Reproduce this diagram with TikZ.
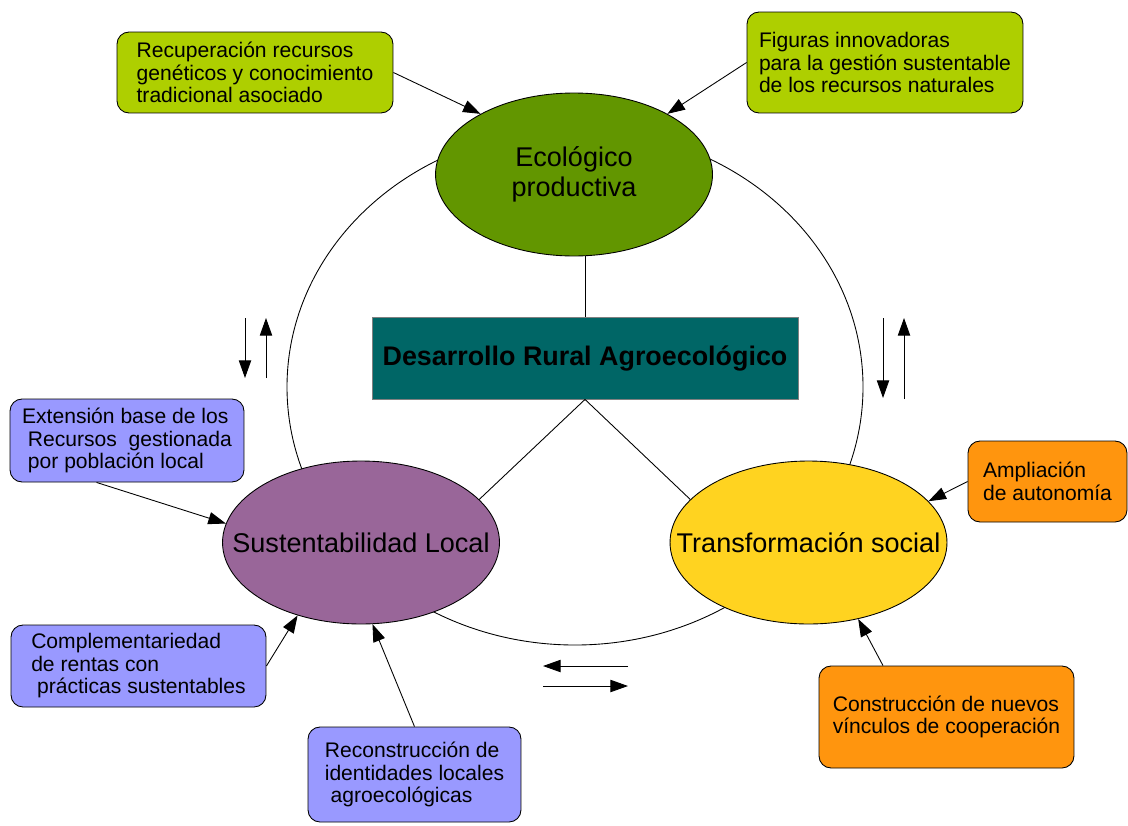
\documentclass[tikz,border=0pt]{standalone}
\usepackage{fontspec}
\setmainfont{Liberation Sans}
\usetikzlibrary{shapes.geometric,arrows.meta}
\definecolor{ecoGreen}{RGB}{98,150,0}
\definecolor{sustPurple}{RGB}{153,102,153}
\definecolor{transYellow}{RGB}{255,211,32}
\definecolor{draTeal}{RGB}{0,102,102}
\definecolor{boxGreen}{RGB}{174,207,0}
\definecolor{boxBlue}{RGB}{153,153,255}
\definecolor{boxOrange}{RGB}{255,149,14}
\newcommand{\ztext}[1]{\makebox[0pt]{#1}}
\begin{document}
\begin{tikzpicture}[x=0.02cm,y=-0.02cm]
	\tikzstyle{Ellipse} = [ellipse, draw=black, line width=0.5pt, minimum width=5.54cm, minimum height=3.26cm, inner sep=0pt, align=center, font=\fontsize{15.4}{17}\selectfont]
	\tikzstyle{Box} = [rectangle, rounded corners=0.24cm, draw=black, line width=0.5pt, inner sep=0pt, align=left, font=\fontsize{12}{12.8}\selectfont]
	\tikzstyle{arrow} = [line width=0.5pt,-{Triangle[length=10pt,width=7pt]}]
	\tikzstyle{link} = [line width=0.5pt]
	
	\useasboundingbox (0,0) rectangle (1128,825);
	
	\draw [link] (575,387) ellipse [x radius=288, y radius=258];
	
	\node (eco) [Ellipse, fill=ecoGreen] at (574,174.5) {\ztext{Ecológico}\\\ztext{productiva}};
	\node (sust) [Ellipse, fill=sustPurple] at (361,542.5) {\ztext{Sustentabilidad Local}};
	\node (trans) [Ellipse, fill=transYellow] at (808.5,542.5) {\ztext{Transformación social}};
	\node (dra) [rectangle, draw=gray, line width=0.5pt, fill=draTeal, minimum width=8.52cm, minimum height=1.64cm, font=\bfseries\fontsize{15.3}{17}\selectfont] at (585,358) {Desarrollo Rural Agroecológico};
	
	\node (rec) [Box, fill=boxGreen, minimum width=5.52cm, minimum height=1.62cm] at (255,72.5) {Recuperación recursos\\genéticos y conocimiento\\tradicional asociado};
	\node (fig) [Box, fill=boxGreen, minimum width=5.52cm, minimum height=2.02cm] at (885,62.5) {Figuras innovadoras\\para la gestión sustentable\\de los recursos naturales};
	\node (ext) [Box, fill=boxBlue, minimum width=4.68cm, minimum height=1.66cm] at (127,440.5) {Extensión base de los\\\ Recursos\ \ gestionada\\\ por población local};
	\node (comp) [Box, fill=boxBlue, minimum width=5.1cm, minimum height=1.64cm] at (138.5,666) {Complementariedad\\de rentas con\\\ prácticas sustentables};
	\node (recon) [Box, fill=boxBlue, minimum width=4.26cm, minimum height=1.9cm] at (414.5,774.5) {Reconstrucción de\\identidades locales\\\ agroecológicas};
	\node (ampl) [Box, fill=boxOrange, minimum width=3.18cm, minimum height=1.62cm] at (1047.5,481.5) {Ampliación\\de autonomía};
	\node (constr) [Box, fill=boxOrange, minimum width=5.1cm, minimum height=2.04cm] at (946.5,717) {Construcción de nuevos\\vínculos de cooperación};
	
	\draw [link] (dra.north) -- (dra.north |- eco.south);
	\draw [link] (dra.south) -- (sust.20);
	\draw [link] (dra.south) -- (trans.160);
	
	\draw [arrow] (rec.east) -- (eco.147);
	\draw [arrow] (fig.west) -- (eco.33);
	\draw [arrow] (ext.234) -- (sust.172);
	\draw [arrow] (comp.east) -- (sust.229);
	\draw [arrow] (recon.north) -- (sust.278);
	\draw [arrow] (ampl.west) -- (trans.19);
	\draw [arrow] (constr.141) -- (trans.303);
	
	\coordinate (la1) at (245,318);
	\coordinate (la2) at (245,378);
	\coordinate (lb1) at (266,378);
	\coordinate (lb2) at (266,318);
	\coordinate (ra1) at (883,318);
	\coordinate (ra2) at (883,398);
	\coordinate (rb1) at (904,399);
	\coordinate (rb2) at (904,318);
	\coordinate (ba1) at (628,666);
	\coordinate (ba2) at (543,666);
	\coordinate (bb1) at (543,686);
	\coordinate (bb2) at (628,686);
	
	\draw [arrow] (la1) -- (la2);
	\draw [arrow] (lb1) -- (lb2);
	\draw [arrow] (ra1) -- (ra2);
	\draw [arrow] (rb1) -- (rb2);
	\draw [arrow] (ba1) -- (ba2);
	\draw [arrow] (bb1) -- (bb2);
\end{tikzpicture}
\end{document}
